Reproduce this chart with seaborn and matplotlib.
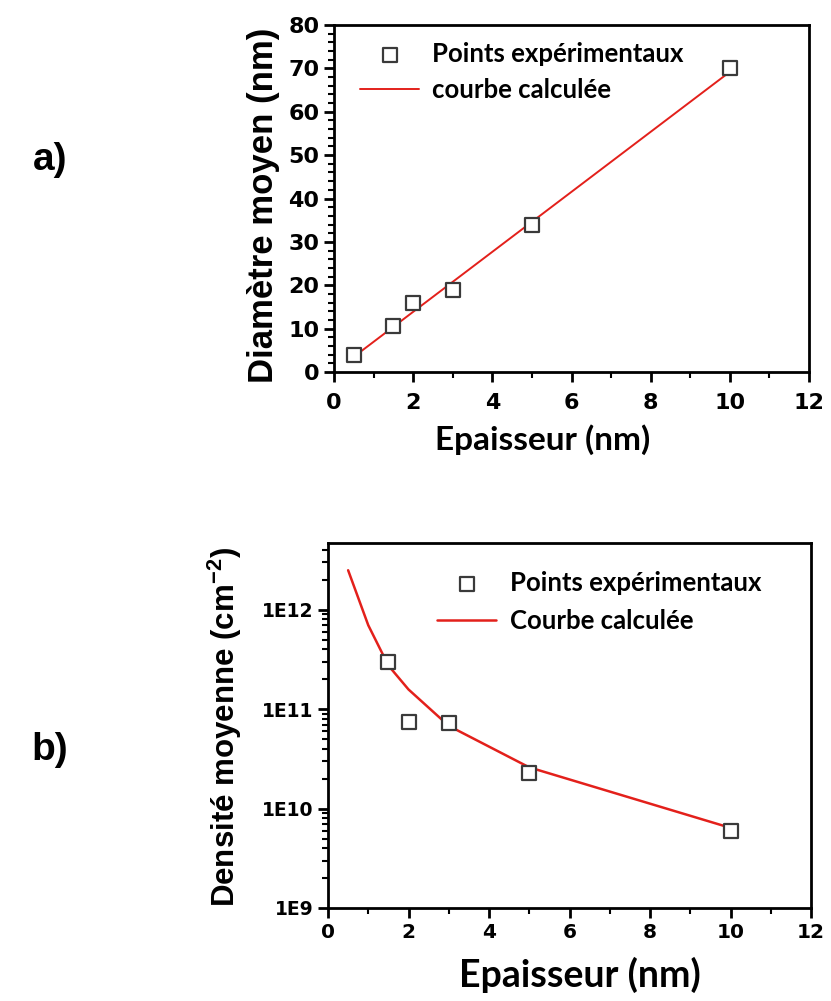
import numpy as np
import pandas as pd
import matplotlib
matplotlib.use("Agg")
import matplotlib.pyplot as plt
from matplotlib.ticker import MultipleLocator, LogLocator, FixedLocator, NullFormatter
import seaborn as sns

# ---- data ----
ep_a = [0.5, 1.5, 2, 3, 5, 10]
diam_a = [4, 10.5, 16, 19, 34, 70]
fit_a_x = [0.5, 10]
fit_a_y = [3.5, 69.2]

ep_b = [1.5, 2, 3, 5, 10]
dens_b = [3.0e11, 7.5e10, 7.3e10, 2.3e10, 6.0e9]
fit_b_x = [0.5, 1.0, 1.5, 2, 3, 5, 10]
fit_b_y = [2.5e12, 7.0e11, 2.75e11, 1.58e11, 6.8e10, 2.6e10, 6.4e9]

xticks = [0, 2, 4, 6, 8, 10, 12]
yticks_a = [0, 10, 20, 30, 40, 50, 60, 70, 80]
yticks_b = [1e9, 1e10, 1e11, 1e12]
ylabels_b = ["1E9", "1E10", "1E11", "1E12"]

lab_pts = "Points expérimentaux"
lab_fit_a = "courbe calculée"
lab_fit_b = "Courbe calculée"

sns.set_theme(style="ticks")
plt.rcParams["font.family"] = ["DejaVu Sans"]
plt.rcParams["text.color"] = "black"
plt.rcParams["axes.labelcolor"] = "black"
plt.rcParams["xtick.color"] = "black"
plt.rcParams["ytick.color"] = "black"
plt.rcParams["mathtext.default"] = "regular"

RED = "#e3201b"
EDGE = "#3a3a3a"

fig = plt.figure(figsize=(8.31, 10.01), dpi=100)
W, H = 831, 1001
def pos(l, t, r, b):
    return [l / W, 1 - b / H, (r - l) / W, (b - t) / H]

ax1 = fig.add_axes(pos(334, 25, 809, 372))
ax2 = fig.add_axes(pos(328, 543, 811, 908))

df_a = pd.DataFrame({"x": ep_a, "y": diam_a})
df_fa = pd.DataFrame({"x": fit_a_x, "y": fit_a_y})
df_b = pd.DataFrame({"x": ep_b, "y": dens_b})
df_fb = pd.DataFrame({"x": fit_b_x, "y": fit_b_y})

sns.scatterplot(data=df_a, x="x", y="y", ax=ax1, marker="s", s=110,
                facecolor="white", edgecolor=EDGE, linewidth=1.6, zorder=3,
                label=lab_pts)
sns.lineplot(data=df_fa, x="x", y="y", ax=ax1, color=RED, linewidth=1.4,
             zorder=2, label=lab_fit_a, sort=False)

sns.scatterplot(data=df_b, x="x", y="y", ax=ax2, marker="s", s=110,
                facecolor="white", edgecolor=EDGE, linewidth=1.6, zorder=3,
                label=lab_pts)
sns.lineplot(data=df_fb, x="x", y="y", ax=ax2, color=RED, linewidth=1.8,
             zorder=2, label=lab_fit_b, sort=False)

tickfont = dict(family="DejaVu Sans", weight="bold")

for ax in (ax1, ax2):
    for sp in ax.spines.values():
        sp.set_linewidth(2.0)
        sp.set_color("black")
    ax.set_xlim(0, 12)
    ax.xaxis.set_major_locator(FixedLocator(xticks))
    ax.xaxis.set_minor_locator(MultipleLocator(1))
    ax.tick_params(axis="both", which="major", direction="out", length=7,
                   width=2, color="black", top=False, right=False)
    ax.tick_params(axis="both", which="minor", direction="out", length=4,
                   width=1.5, color="black", top=False, right=False)

# top axes
ax1.set_ylim(0, 80)
ax1.yaxis.set_major_locator(FixedLocator(yticks_a))
ax1.yaxis.set_minor_locator(MultipleLocator(2))
ax1.set_yticklabels([str(v) for v in yticks_a], fontsize=16, **tickfont)
ax1.set_xticklabels([str(v) for v in xticks], fontsize=16, **tickfont)
ax1.tick_params(axis="x", which="major", pad=8)

# bottom axes
ax2.set_yscale("log")
ax2.set_ylim(1e9, 4.7e12)
ax2.yaxis.set_major_locator(FixedLocator(yticks_b))
ax2.yaxis.set_minor_locator(LogLocator(base=10, subs=np.arange(2, 10), numticks=20))
ax2.yaxis.set_minor_formatter(NullFormatter())
ax2.set_yticklabels(ylabels_b, fontsize=13.5, **tickfont)
ax2.set_xticklabels([str(v) for v in xticks], fontsize=14.5, **tickfont)

# axis labels
ax1.set_xlabel("Epaisseur (nm)", fontsize=24, family="Lato", weight="bold")
ax1.xaxis.label.set_va("center")
ax1.xaxis.set_label_coords((543 - 334) / 475, (372 - 440) / 347)
ax1.set_ylabel("Diamètre moyen (nm)", fontsize=25, family="Liberation Sans", weight="bold")
ax1.yaxis.label.set_va("center")
ax1.yaxis.set_label_coords((264 - 334) / 475, (372 - 205) / 347)

ax2.set_xlabel("Epaisseur (nm)", fontsize=27, family="Lato", weight="bold")
ax2.xaxis.label.set_va("center")
ax2.xaxis.set_label_coords((580 - 328) / 483, (908 - 975) / 365)
ax2.set_ylabel("Densité moyenne (cm$^{-2}$)", fontsize=22.5, family="Liberation Sans", weight="bold")
ax2.yaxis.label.set_va("center")
ax2.yaxis.set_label_coords((225 - 328) / 483, (908 - 727) / 365)

# legends
leg1 = ax1.legend(loc="upper left", bbox_to_anchor=((360 - 334) / 475, (372 - 42) / 347),
                  frameon=False, handlelength=2.3, handletextpad=0.5,
                  labelspacing=0.45, borderpad=0, borderaxespad=0,
                  prop=dict(family="Lato", size=18.5, weight="bold"))
leg2 = ax2.legend(loc="upper left", bbox_to_anchor=((437 - 328) / 483, (908 - 571) / 365),
                  frameon=False, handlelength=2.3, handletextpad=0.55,
                  labelspacing=0.55, borderpad=0, borderaxespad=0,
                  prop=dict(family="Lato", size=18.5, weight="bold"))

fig.text(50 / W, 1 - 160 / H, "a)", fontsize=28, weight="bold",
         family="Liberation Sans", ha="center", va="center")
fig.text(50 / W, 1 - 750 / H, "b)", fontsize=28, weight="bold",
         family="Liberation Sans", ha="center", va="center")

fig.savefig("out.png", dpi=100)
